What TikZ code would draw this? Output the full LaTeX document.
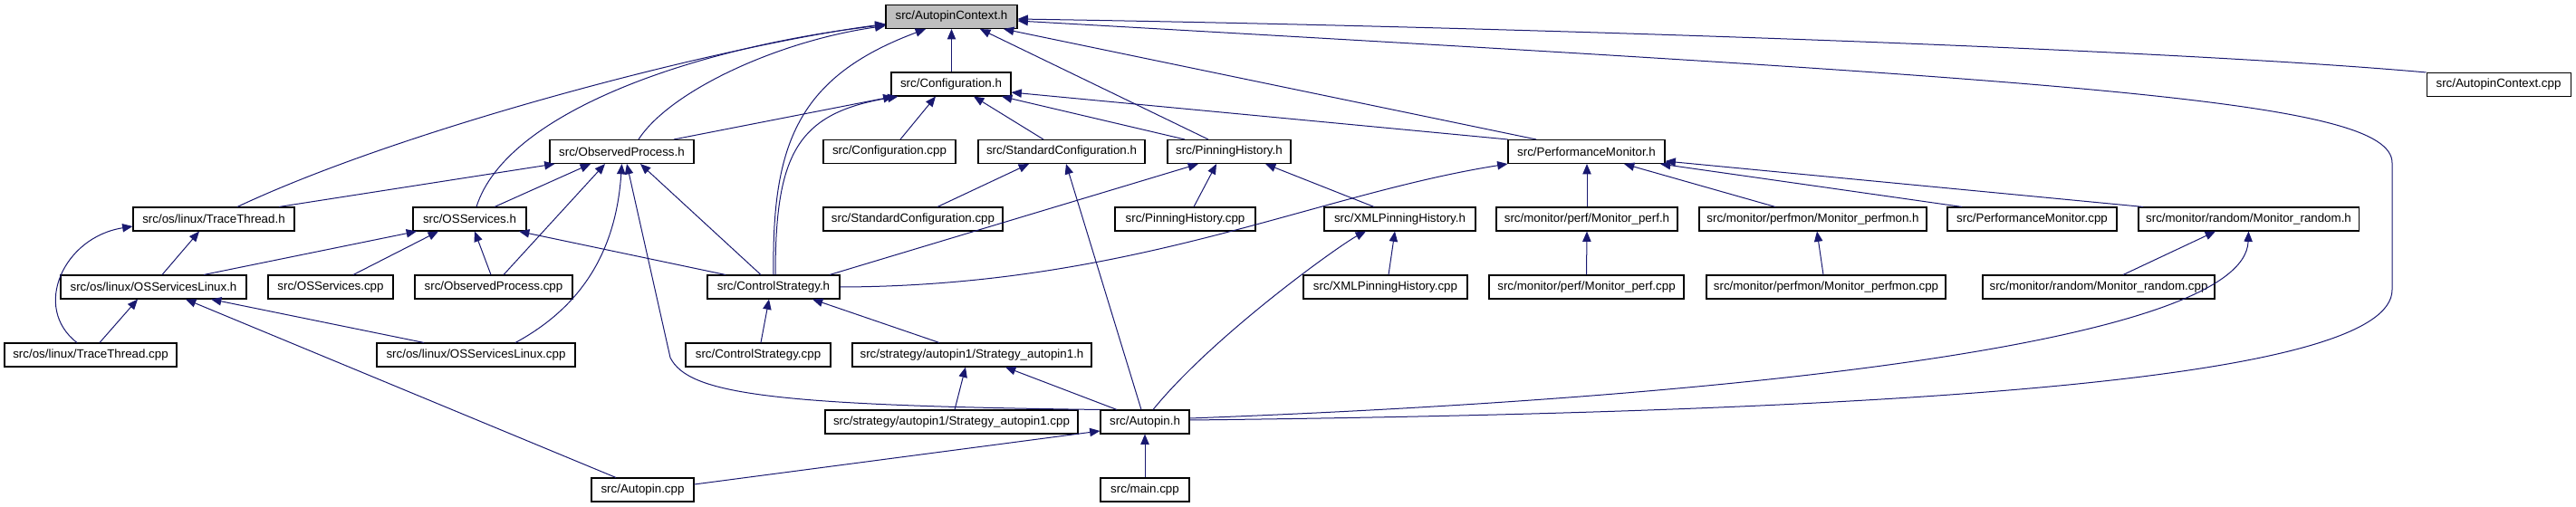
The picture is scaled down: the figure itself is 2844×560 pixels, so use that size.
\documentclass[tikz,border=0pt]{standalone}
\usepackage{fontspec}
\setmainfont{Liberation Sans}
\usetikzlibrary{arrows.meta, calc}
\definecolor{edgeblue}{HTML}{191970}
\definecolor{curgray}{HTML}{BFBFBF}

\begin{document}
\begin{tikzpicture}[
    x=0.75pt, y=-0.75pt,
    nd/.style={draw, line width=0.8pt, fill=white, minimum height=19.5pt,
      inner xsep=2pt, inner ysep=0pt, font=\fontsize{10pt}{12pt}\selectfont},
    inc/.style={draw=edgeblue, line width=0.75pt, <-},
    >={Triangle[length=8.5pt,width=7pt]}]
\useasboundingbox (0,0) rectangle (2844,560);
% row 1 and 2
\node[nd, fill=curgray, minimum width=108.75pt] (ctxh) at (1050.5,18.5) {src/AutopinContext.h};
\node[nd, minimum width=99pt]     (confh)  at (1050,93)    {src/Configuration.h};
\node[nd, minimum width=119.25pt] (ctxcpp) at (2758.5,93.5) {src/AutopinContext.cpp};
% row 3
\node[nd, minimum width=119.25pt] (obsh)     at (686.5,167.5)  {src/ObservedProcess.h};
\node[nd, minimum width=109.5pt]  (confcpp)  at (982,167.5)    {src/Configuration.cpp};
\node[nd, minimum width=138pt]    (stdconfh) at (1172,167.5)   {src/StandardConfiguration.h};
\node[nd, minimum width=102pt]    (pinh)     at (1357,167.5)   {src/PinningHistory.h};
\node[nd, minimum width=129.75pt] (perfh)    at (1751.5,167.5) {src/PerformanceMonitor.h};
% row 4
\node[nd, minimum width=133.5pt]  (traceh)     at (236,242)    {src/os/linux/TraceThread.h};
\node[nd, minimum width=93.75pt]  (ossh)       at (518.5,242)  {src/OSServices.h};
\node[nd, minimum width=148.5pt]  (stdconfcpp) at (1008,242)   {src/StandardConfiguration.cpp};
\node[nd, minimum width=116.25pt] (pincpp)     at (1308.5,242) {src/PinningHistory.cpp};
\node[nd, minimum width=125.25pt] (xmlh)       at (1545.5,242) {src/XMLPinningHistory.h};
\node[nd, minimum width=150pt]    (mperfh)     at (1752,242)   {src/monitor/perf/Monitor\_perf.h};
\node[nd, minimum width=188.25pt] (mperfmonh)  at (2001.5,242) {src/monitor/perfmon/Monitor\_perfmon.h};
\node[nd, minimum width=140.25pt] (perfcpp)    at (2243.5,242) {src/PerformanceMonitor.cpp};
\node[nd, minimum width=182.25pt] (mrandh)     at (2482.5,242) {src/monitor/random/Monitor\_random.h};
% row 5
\node[nd, minimum width=153.75pt] (osslinh)     at (169.5,317)  {src/os/linux/OSServicesLinux.h};
\node[nd, minimum width=103.5pt]  (osscpp)      at (365,317)    {src/OSServices.cpp};
\node[nd, minimum width=130.5pt]  (obscpp)      at (545,317)    {src/ObservedProcess.cpp};
\node[nd, minimum width=109.5pt]  (ctrlh)       at (854,317)    {src/ControlStrategy.h};
\node[nd, minimum width=135.75pt] (xmlcpp)      at (1529.5,317) {src/XMLPinningHistory.cpp};
\node[nd, minimum width=161.25pt] (mperfcpp)    at (1751.5,317) {src/monitor/perf/Monitor\_perf.cpp};
\node[nd, minimum width=198pt]    (mperfmoncpp) at (2016,317)   {src/monitor/perfmon/Monitor\_perfmon.cpp};
\node[nd, minimum width=192pt]    (mrandcpp)    at (2317,317)   {src/monitor/random/Monitor\_random.cpp};
% row 6
\node[nd, minimum width=142.5pt]  (tracecpp)  at (100,392)   {src/os/linux/TraceThread.cpp};
\node[nd, minimum width=164.25pt] (osslincpp) at (525.5,392) {src/os/linux/OSServicesLinux.cpp};
\node[nd, minimum width=120pt]    (ctrlcpp)   at (837,392)   {src/ControlStrategy.cpp};
\node[nd, minimum width=198pt]    (strath)    at (1073,392)  {src/strategy/autopin1/Strategy\_autopin1.h};
% row 7 and 8
\node[nd, minimum width=209.25pt] (stratcpp)   at (1050.5,466) {src/strategy/autopin1/Strategy\_autopin1.cpp};
\node[nd, minimum width=73.5pt]   (autopinh)   at (1264,466)   {src/Autopin.h};
\node[nd, minimum width=84.75pt]  (autopincpp) at (709.5,541)  {src/Autopin.cpp};
\node[nd, minimum width=73.5pt]   (maincpp)    at (1264,541)   {src/main.cpp};
% into AutopinContext.h
\draw[inc] (ctxh.south) -- (ctxh.south |- confh.north);
\draw[inc] ($(ctxh.east)+(0,2.5)$) .. controls (1700,30) and (2400,55) .. (ctxcpp.north west);
\draw[inc] ($(ctxh.west)+(0,8)$) .. controls (800,50) and (450,140) .. ($(traceh.north)+(26,0)$);
\draw[inc] ($(ctxh.west)+(0,9)$) .. controls (780,50) and (560,120) .. ($(ossh.north)+(7.5,0)$);
\draw[inc] ($(ctxh.west)+(0,10)$) .. controls (860,45) and (740,100) .. ($(obsh.north)+(18.5,0)$);
\draw[inc] ($(ctxh.south)+(-28.5,0)$) .. controls (880,85) and (852,160) .. (ctrlh.north);
\draw[inc] ($(ctxh.south)+(31.5,0)$) -- ($(pinh.north)+(-23,0)$);
\draw[inc] ($(ctxh.south)+(57.5,0)$) -- ($(perfh.north)+(-55.5,0)$);
\draw[inc] ($(ctxh.east)+(0,4.5)$) .. controls (2300,90) and (2641,110) .. (2641,180)
  -- (2641,320) .. controls (2641,420) and (2100,455) .. ($(autopinh.east)+(0,-2)$);
% into Configuration.h
\draw[inc] ($(confh.south west)+(3,0)$) -- ($(obsh.north)+(57.5,0)$);
\draw[inc] ($(confh.south west)+(8,0)$) .. controls (880,125) and (856,170) .. ($(ctrlh.north)+(2,0)$);
\draw[inc] ($(confh.south)+(-17,0)$) -- ($(confcpp.north)+(12,0)$);
\draw[inc] ($(confh.south)+(25,0)$) -- ($(stdconfh.north)+(-20,0)$);
\draw[inc] ($(confh.south)+(56,0)$) -- ($(pinh.north)+(-49,0)$);
\draw[inc] ($(confh.east)+(0,9)$) -- (perfh.north west);
% into ObservedProcess.h
\draw[inc] ($(obsh.south west)+(6,0)$) -- ($(traceh.north)+(72,0)$);
\draw[inc] ($(obsh.south)+(-34.5,0)$) -- ($(ossh.north)+(27.5,0)$);
\draw[inc] ($(obsh.south)+(-18.5,0)$) -- ($(obscpp.north)+(11,0)$);
\draw[inc] (obsh.south) .. controls (680,280) and (640,340) .. ($(osslincpp.north)+(43.5,0)$);
\draw[inc] ($(obsh.south)+(5.5,0)$) -- (740,395) .. controls (760,435) and (850,448) .. (autopinh.north west);
\draw[inc] ($(obsh.south)+(20.5,0)$) -- ($(ctrlh.north)+(-14,0)$);
% into TraceThread.h and OSServices.h
\draw[inc] ($(traceh.west)+(0,8)$) .. controls (70,262) and (35,340) .. ($(tracecpp.north)+(-15,0)$);
\draw[inc] ($(traceh.south)+(-16,0)$) -- ($(osslinh.north)+(9.5,0)$);
\draw[inc] ($(ossh.south)+(-58.5,0)$) -- ($(osslinh.north)+(55.5,0)$);
\draw[inc] ($(ossh.south)+(-34.5,0)$) -- ($(osscpp.north)+(25,0)$);
\draw[inc] ($(ossh.south)+(5.5,0)$) -- ($(obscpp.north)+(-3,0)$);
\draw[inc] ($(ossh.south)+(54.5,0)$) -- ($(ctrlh.north)+(-53,0)$);
% into OSServicesLinux.h
\draw[inc] ($(osslinh.south)+(-17.5,0)$) -- ($(tracecpp.north)+(10,0)$);
\draw[inc] ($(osslinh.south)+(63.5,0)$) -- ($(osslincpp.north)+(-57.5,0)$);
\draw[inc] ($(osslinh.south)+(35.5,0)$) -- ($(autopincpp.north)+(-29.5,0)$);
% into ControlStrategy.h
\draw[inc] ($(ctrlh.south)+(-5,0)$) -- ($(ctrlcpp.north)+(3,0)$);
\draw[inc] ($(ctrlh.south)+(43,0)$) -- ($(strath.north)+(-36,0)$);
% into PinningHistory.h, StandardConfiguration.h, XMLPinningHistory.h
\draw[inc] ($(pinh.south)+(-34,0)$) -- ($(ctrlh.north)+(62,0)$);
\draw[inc] ($(pinh.south)+(-14,0)$) -- ($(pincpp.north)+(9.5,0)$);
\draw[inc] ($(pinh.south)+(40,0)$) -- ($(xmlh.north)+(-28.5,0)$);
\draw[inc] ($(stdconfh.south)+(-36,0)$) -- ($(stdconfcpp.north)+(27,0)$);
\draw[inc] ($(stdconfh.south)+(5,0)$) -- ($(autopinh.north)+(-4,0)$);
\draw[inc] ($(xmlh.south)+(-5.5,0)$) -- ($(xmlcpp.north)+(3.5,0)$);
\draw[inc] ($(xmlh.south)+(-37.5,0)$) .. controls (1480,270) and (1340,370) .. ($(autopinh.north)+(9,0)$);
% into PerformanceMonitor.h
\draw[inc] (perfh.south west) .. controls (1450,215) and (1250,316) .. (ctrlh.east);
\draw[inc] ($(perfh.south)+(0.5,0)$) -- (mperfh.north);
\draw[inc] ($(perfh.south)+(41.5,0)$) -- ($(mperfmonh.north)+(-41.5,0)$);
\draw[inc] ($(perfh.south)+(81.5,0)$) -- ($(perfcpp.north)+(-77.5,0)$);
\draw[inc] ($(perfh.east)+(0,10.5)$) -- ($(mrandh.north)+(-116.5,0)$);
% monitors
\draw[inc] (mperfh.south) -- (mperfcpp.north);
\draw[inc] ($(mperfmonh.south)+(4.5,0)$) -- ($(mperfmoncpp.north)+(-3,0)$);
\draw[inc] ($(mrandh.south)+(-36.5,0)$) -- ($(mrandcpp.north)+(27,0)$);
\draw[inc] (mrandh.south) .. controls (2478,380) and (1900,440) .. ($(autopinh.east)+(0,-4)$);
% into Strategy_autopin1.h and Autopin.h
\draw[inc] ($(strath.south)+(-7,0)$) -- ($(stratcpp.north)+(3.5,0)$);
\draw[inc] ($(strath.south)+(37,0)$) -- ($(autopinh.north)+(-31,0)$);
\draw[inc] ($(autopinh.west)+(0,10)$) -- ($(autopincpp.east)+(0,-6)$);
\draw[inc] (autopinh.south) -- (maincpp.north);
\end{tikzpicture}
\end{document}
